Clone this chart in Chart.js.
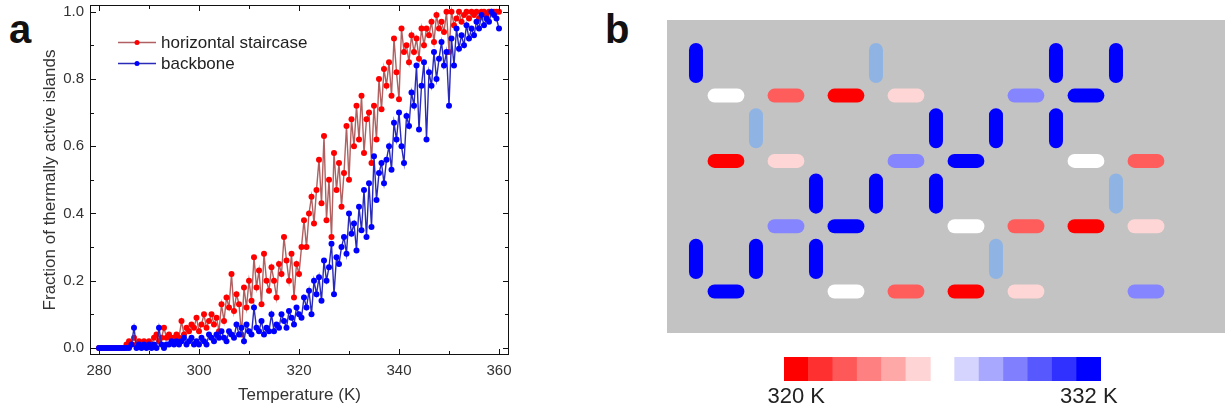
<!DOCTYPE html>
<html lang="en">
<head>
<meta charset="UTF-8">
<title>Thermally active islands</title>
<script src="https://cdn.jsdelivr.net/npm/chart.js@4.4.0/dist/chart.umd.min.js"></script>
<style>
  body { margin: 0; background: #fff; width: 1225px; height: 414px; overflow: hidden; position: relative;
         font-family: Arial, "Liberation Sans", sans-serif; }
  canvas { position: absolute; }
  .panel-label { position: absolute; font-weight: bold; font-size: 40px; line-height: 40px; color: #111; }
</style>
</head>
<body>
<div class="panel-label" style="left:9px; top:9px">a</div>
<div class="panel-label" style="left:605px; top:9px">b</div>
<canvas id="chartA" width="530" height="414" style="left:0; top:0"></canvas>
<canvas id="chartB" width="558" height="313" style="left:667px; top:20px"></canvas>
<canvas id="chartC" width="370" height="64" style="left:760px; top:350px"></canvas>
<script>
// ---- panel a data (temperature sweep, 0.5 K steps) ----
const tStart = 280, tStep = 0.5, tCount = 161;
const temps = [];
for (let i = 0; i < tCount; i++) temps.push(tStart + i * tStep);

const staircase = [
  0,0,0,0,0,0,0,0,0,0,
  0,0.01,0.02,0.01,0.03,0.01,0.02,0.01,0.02,0.01,
  0.02,0.01,0.03,0.04,0.02,0.03,0.06,0.03,0.04,0.03,
  0.03,0.04,0.03,0.08,0.04,0.06,0.05,0.07,0.06,0.09,
  0.05,0.07,0.1,0.06,0.08,0.1,0.07,0.09,0.05,0.13,
  0.08,0.15,0.12,0.22,0.11,0.16,0.13,0.04,0.18,0.12,
  0.2,0.14,0.27,0.18,0.23,0.13,0.28,0.2,0.17,0.24,
  0.2,0.15,0.25,0.22,0.33,0.26,0.2,0.28,0.15,0.25,
  0.22,0.3,0.38,0.3,0.4,0.45,0.37,0.47,0.56,0.43,
  0.63,0.38,0.5,0.33,0.58,0.47,0.55,0.42,0.52,0.66,
  0.5,0.68,0.6,0.72,0.62,0.75,0.58,0.68,0.7,0.55,
  0.72,0.62,0.8,0.71,0.83,0.78,0.85,0.75,0.92,0.82,
  0.74,0.95,0.88,0.9,0.85,0.93,0.88,0.92,0.86,0.95,
  0.9,0.95,0.93,0.97,0.91,0.99,0.95,0.97,0.94,1.0,
  0.88,1.0,0.96,0.98,1.0,0.97,0.99,1.0,0.98,1.0,
  0.99,1.0,0.98,1.0,1.0,0.99,1.0,1.0,1.0,1.0,
  1.0
];
const backbone = [
  0,0,0,0,0,0,0,0,0,0,
  0,0,0,0.01,0.06,0.0,0.01,0,0.01,0.0,
  0.01,0,0.01,0.0,0.06,0.01,0.0,0.01,0.01,0.02,
  0.01,0.02,0.01,0.02,0.03,0.01,0.02,0.03,0.01,0.02,
  0.01,0.03,0.02,0.01,0.04,0.03,0.02,0.04,0.03,0.05,
  0.03,0.02,0.05,0.04,0.03,0.07,0.04,0.06,0.02,0.07,
  0.05,0.04,0.12,0.06,0.05,0.08,0.04,0.06,0.05,0.1,
  0.05,0.07,0.06,0.1,0.08,0.06,0.11,0.09,0.07,0.12,
  0.1,0.09,0.15,0.12,0.17,0.1,0.2,0.16,0.21,0.14,
  0.26,0.2,0.24,0.31,0.16,0.27,0.25,0.3,0.33,0.28,
  0.4,0.34,0.37,0.29,0.42,0.35,0.47,0.33,0.49,0.36,
  0.57,0.44,0.52,0.55,0.49,0.56,0.6,0.53,0.67,0.62,
  0.7,0.6,0.55,0.69,0.66,0.76,0.72,0.84,0.65,0.78,
  0.85,0.62,0.82,0.78,0.88,0.8,0.86,0.91,0.84,0.88,
  0.72,0.92,0.84,0.95,0.89,0.93,0.9,0.96,0.92,0.95,
  0.93,0.97,0.95,0.99,0.96,0.98,0.97,1.0,0.99,0.98,
  0.95
];
const xMajor = [280, 300, 320, 340, 360];
const xMinor = [290, 310, 330, 350];
const yMajor = [0, 0.2, 0.4, 0.6, 0.8, 1.0];
const yMinor = [0.1, 0.3, 0.5, 0.7, 0.9];

// ---- panel b data: [column, row, colour class] ----
const hIslands = [
  [0,0,'w'],[1,0,'r2'],[2,0,'r1'],[3,0,'r3'],[5,0,'b2'],[6,0,'b1'],
  [0,1,'r1'],[1,1,'r3'],[3,1,'b2'],[4,1,'b1'],[6,1,'w'],[7,1,'r2'],
  [1,2,'b2'],[2,2,'b1'],[4,2,'w'],[5,2,'r2'],[6,2,'r1'],[7,2,'r3'],
  [0,3,'b1'],[2,3,'w'],[3,3,'r2'],[4,3,'r1'],[5,3,'r3'],[7,3,'b2']
];
const vIslands = [
  [0,0,'b1'],[3,0,'s'],[6,0,'b1'],[7,0,'b1'],
  [1,1,'s'],[4,1,'b1'],[5,1,'b1'],[6,1,'b1'],
  [2,2,'b1'],[3,2,'b1'],[4,2,'b1'],[7,2,'s'],
  [0,3,'b1'],[1,3,'b1'],[2,3,'b1'],[5,3,'s']
];
const islandColors = { r1: '#ff0000', r2: '#ff5c5c', r3: '#ffd6d6', w: '#ffffff',
                       b2: '#8585ff', b1: '#0000ff', s: '#8fb4e4' };

// ---- colour bar ----
const barLabels = ['320 K','','','','','','','','','','','','332 K'];
const barValues = [1,1,1,1,1,1,null,1,1,1,1,1,1];
const barColors = ['#ff0000','#ff3030','#ff5858','#ff8080','#ffa8a8','#ffd4d4', '#ffffff',
                   '#d4d4ff','#a8a8ff','#8080ff','#5858ff','#3030ff','#0000ff'];

const FONT = 'Arial, "Liberation Sans", sans-serif';
Chart.defaults.font.family = FONT;
Chart.defaults.animation = false;
Chart.defaults.plugins.legend.display = false;
Chart.defaults.plugins.tooltip.enabled = false;

// frame with inward ticks on all four sides + inset legend
const frameAndLegend = {
  id: 'frameAndLegend',
  afterDraw(chart) {
    const {ctx, chartArea: a, scales: {x, y}} = chart;
    ctx.save();
    ctx.strokeStyle = '#111';
    ctx.lineWidth = 1;
    ctx.strokeRect(a.left + 0.5, a.top + 0.5, a.right - a.left - 1, a.bottom - a.top - 1);
    ctx.beginPath();
    const xt = (vals, len) => vals.forEach(v => {
      const p = Math.round(x.getPixelForValue(v)) + 0.5;
      ctx.moveTo(p, a.bottom); ctx.lineTo(p, a.bottom - len);
      ctx.moveTo(p, a.top); ctx.lineTo(p, a.top + len);
    });
    const yt = (vals, len) => vals.forEach(v => {
      const p = Math.round(y.getPixelForValue(v)) + 0.5;
      ctx.moveTo(a.left, p); ctx.lineTo(a.left + len, p);
      ctx.moveTo(a.right, p); ctx.lineTo(a.right - len, p);
    });
    xt(xMajor, 6); xt(xMinor, 4); yt(yMajor, 6); yt(yMinor, 4);
    ctx.stroke();

    // legend: red first, blue second
    const items = [chart.data.datasets[1], chart.data.datasets[0]];
    items.forEach((ds, i) => {
      const yy = 42 + i * 21;
      ctx.strokeStyle = ds.borderColor;
      ctx.lineWidth = 1.3;
      ctx.beginPath(); ctx.moveTo(118, yy + 0.5); ctx.lineTo(156, yy + 0.5); ctx.stroke();
      ctx.fillStyle = ds.pointBackgroundColor;
      ctx.beginPath(); ctx.arc(137, yy + 0.5, 2.5, 0, Math.PI * 2); ctx.fill();
      ctx.fillStyle = '#222';
      ctx.font = '17px ' + FONT;
      ctx.textBaseline = 'middle';
      ctx.fillText(ds.label, 161, yy + 1);
    });
    ctx.restore();
  }
};

new Chart(document.getElementById('chartA'), {
  type: 'line',
  data: {
    datasets: [
      {
        label: 'backbone',
        data: temps.map((t, i) => ({x: t, y: backbone[i]})),
        borderColor: '#2a2ab8',
        pointBackgroundColor: '#0000ff',
        pointBorderColor: '#0000ff',
        order: 0
      },
      {
        label: 'horizontal staircase',
        data: temps.map((t, i) => ({x: t, y: staircase[i]})),
        borderColor: '#b06060',
        pointBackgroundColor: '#ff0000',
        pointBorderColor: '#ff0000',
        order: 1
      }
    ]
  },
  options: {
    responsive: false,
    devicePixelRatio: 1,
    layout: { padding: { top: 5, right: 21, left: 0, bottom: 0 } },
    elements: {
      line: { borderWidth: 1.4, tension: 0 },
      point: { radius: 3, borderWidth: 0 }
    },
    scales: {
      x: {
        type: 'linear', min: 278.2, max: 362,
        grid: { display: false, drawTicks: false }, border: { display: false },
        ticks: { font: { size: 15 }, color: '#333', padding: 7, maxRotation: 0, callback: v => String(v) },
        title: { display: true, text: 'Temperature (K)', font: { size: 17 }, color: '#333', padding: { top: 4, bottom: 8 } },
        afterBuildTicks: s => { s.ticks = xMajor.map(v => ({value: v})); },
        afterFit: s => { s.height = 59; s.paddingLeft = 0; s.paddingRight = 0; }
      },
      y: {
        type: 'linear', min: -0.021, max: 1.02,
        grid: { display: false, drawTicks: false }, border: { display: false },
        ticks: { font: { size: 15 }, color: '#333', padding: 6, callback: v => v.toFixed(1) },
        title: { display: true, text: 'Fraction of thermally active islands', font: { size: 17 }, color: '#333', padding: { top: 40, bottom: 4 } },
        afterBuildTicks: s => { s.ticks = yMajor.map(v => ({value: v})); },
        afterFit: s => { s.width = 90; s.paddingTop = 0; s.paddingBottom = 0; }
      }
    }
  },
  plugins: [frameAndLegend]
});

// ---- panel b: islands on the lattice ----
const islandSets = [];
hIslands.forEach(([c, r, k]) => islandSets.push({
  data: [{x: c + 0.5 - 0.19, y: r + 0.5}, {x: c + 0.5 + 0.19, y: r + 0.5}],
  borderColor: islandColors[k]
}));
vIslands.forEach(([c, r, k]) => islandSets.push({
  data: [{x: c, y: r - 0.2}, {x: c, y: r + 0.2}],
  borderColor: islandColors[k]
}));

const greyBack = {
  id: 'greyBack',
  beforeDraw(chart) {
    const {ctx, chartArea: a} = chart;
    ctx.save();
    ctx.fillStyle = '#c3c3c3';
    ctx.fillRect(a.left, a.top, a.right - a.left, a.bottom - a.top);
    ctx.restore();
  }
};

new Chart(document.getElementById('chartB'), {
  type: 'line',
  data: { datasets: islandSets },
  options: {
    responsive: false,
    devicePixelRatio: 1,
    layout: { padding: 0 },
    datasets: { line: { borderWidth: 14, borderCapStyle: 'round', pointRadius: 0, tension: 0, clip: false } },
    scales: {
      x: { type: 'linear', min: -0.483, max: 8.817, display: false },
      y: { type: 'linear', min: -0.658, max: 4.135, reverse: true, display: false }
    }
  },
  plugins: [greyBack]
});

// ---- colour bar ----
new Chart(document.getElementById('chartC'), {
  type: 'bar',
  data: {
    labels: barLabels,
    datasets: [{ data: barValues, backgroundColor: barColors, barPercentage: 1, categoryPercentage: 1, borderWidth: 0 }]
  },
  options: {
    responsive: false,
    devicePixelRatio: 1,
    layout: { padding: { left: 24, right: 29, top: 7, bottom: 0 } },
    scales: {
      x: {
        grid: { display: false, drawTicks: false }, border: { display: false },
        ticks: { font: { size: 22 }, color: '#222', padding: 3, maxRotation: 0, autoSkip: false },
        afterFit: s => { s.height = 33; s.paddingLeft = 0; s.paddingRight = 0; }
      },
      y: { min: 0, max: 1, display: false }
    }
  }
});
</script>
</body>
</html>
